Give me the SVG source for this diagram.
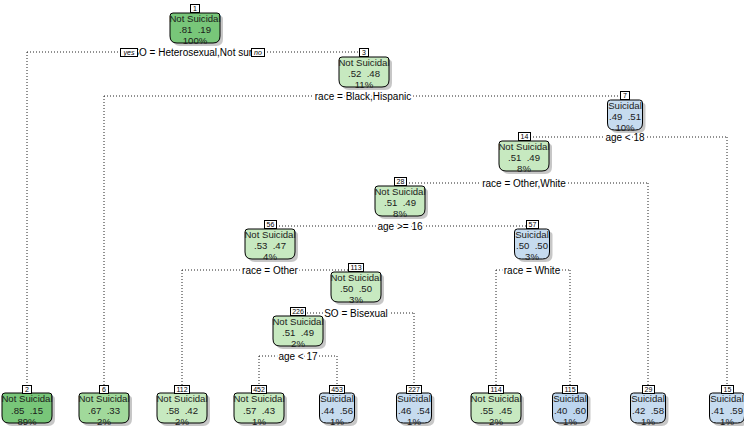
<svg xmlns="http://www.w3.org/2000/svg" width="744" height="432" viewBox="0 0 744 432">
<style>
text{font-family:"Liberation Sans",Arial,sans-serif;}
.c{stroke:#222;stroke-width:1;stroke-dasharray:1 2;fill:none;}
.sl{font-size:10px;fill:#000;text-anchor:middle;stroke:#fff;stroke-width:4;paint-order:stroke;stroke-linejoin:round;}
.t{font-size:9.6px;fill:#1a1a1a;text-anchor:middle;white-space:pre;}
.nb{fill:#fff;stroke:#000;stroke-width:1;}
.nt{font-size:7px;fill:#000;text-anchor:middle;}
.sh{fill:#999;opacity:0.55;}
.bx{stroke:#000;stroke-width:1;}
.g1{fill:#78C679;}
.g2{fill:#A1D99B;}
.g3{fill:#C7E9C0;}
.b1{fill:#C6DBEF;}
.b2{fill:#BCD5EE;}
.yn{font-size:7px;font-style:italic;fill:#000;text-anchor:middle;}
</style>
<defs>
<path id="bg" d="M3,0 H47 Q50,0 50,3 V23 Q50,30 43,30 H7 Q0,30 0,23 V3 Q0,0 3,0 Z"/>
<path id="bb" d="M3,0 H32 Q35,0 35,3 V23 Q35,30 28,30 H7 Q0,30 0,23 V3 Q0,0 3,0 Z"/>
</defs>
<g id="connectors">
<path class="c" d="M27,52 H364 M27,52 V385"/>
<path class="c" d="M104,96 H625 M104,96 V385"/>
<path class="c" d="M524,137 H727 M727,137 V385"/>
<path class="c" d="M400,183 H648 M648,183 V385"/>
<path class="c" d="M270,226 H532"/>
<path class="c" d="M182,270 H356 M182,270 V385"/>
<path class="c" d="M496,270 H570 M496,270 V385 M570,270 V385"/>
<path class="c" d="M298,313 H414 M414,313 V385"/>
<path class="c" d="M259,356 H337 M259,356 V385 M337,356 V385"/>
</g>
<g id="labels">
<text class="sl" x="195" y="56">SO = Heterosexual,Not sure</text>
<text class="sl" x="363" y="100">race = Black,Hispanic</text>
<text class="sl" x="625" y="141">age &lt; 18</text>
<text class="sl" x="524" y="187">race = Other,White</text>
<text class="sl" x="400" y="230">age &gt;= 16</text>
<text class="sl" x="270" y="274">race = Other</text>
<text class="sl" x="532" y="274">race = White</text>
<text class="sl" x="356" y="317">SO = Bisexual</text>
<text class="sl" x="298" y="360">age &lt; 17</text>
<rect class="nb" x="120.5" y="48.5" width="17" height="8"/>
<text class="yn" x="129" y="55">yes</text>
<rect class="nb" x="251.5" y="48.5" width="13" height="8"/>
<text class="yn" x="258" y="55">no</text>
</g>
<g id="node1">
<use href="#bg" class="sh" x="173" y="16"/>
<use href="#bg" class="bx g1" x="170" y="13"/>
<rect class="nb" x="190.5" y="4.5" width="9" height="8"/>
<text class="nt" x="195" y="11">1</text>
<text class="t" x="195" y="22">Not Suicidal</text>
<text class="t" x="195" y="33">.81  .19</text>
<text class="t" x="195" y="44">100%</text>
</g>
<g id="node3">
<use href="#bg" class="sh" x="342" y="60"/>
<use href="#bg" class="bx g3" x="339" y="57"/>
<rect class="nb" x="359.5" y="48.5" width="9" height="8"/>
<text class="nt" x="364" y="55">3</text>
<text class="t" x="364" y="66">Not Suicidal</text>
<text class="t" x="364" y="77">.52  .48</text>
<text class="t" x="364" y="88">11%</text>
</g>
<g id="node7">
<use href="#bb" class="sh" x="610.5" y="103"/>
<use href="#bb" class="bx b1" x="607.5" y="100"/>
<rect class="nb" x="620.5" y="91.5" width="9" height="8"/>
<text class="nt" x="625" y="98">7</text>
<text class="t" x="625" y="109">Suicidal</text>
<text class="t" x="625" y="120">.49  .51</text>
<text class="t" x="625" y="131">10%</text>
</g>
<g id="node14">
<use href="#bg" class="sh" x="502" y="144"/>
<use href="#bg" class="bx g3" x="499" y="141"/>
<rect class="nb" x="518.5" y="132.5" width="12" height="8"/>
<text class="nt" x="524.5" y="139">14</text>
<text class="t" x="524" y="150">Not Suicidal</text>
<text class="t" x="524" y="161">.51  .49</text>
<text class="t" x="524" y="172">8%</text>
</g>
<g id="node28">
<use href="#bg" class="sh" x="378" y="189"/>
<use href="#bg" class="bx g3" x="375" y="186"/>
<rect class="nb" x="394.5" y="177.5" width="12" height="8"/>
<text class="nt" x="400.5" y="184">28</text>
<text class="t" x="400" y="195">Not Suicidal</text>
<text class="t" x="400" y="206">.51  .49</text>
<text class="t" x="400" y="217">8%</text>
</g>
<g id="node56">
<use href="#bg" class="sh" x="248" y="232"/>
<use href="#bg" class="bx g3" x="245" y="229"/>
<rect class="nb" x="264.5" y="220.5" width="12" height="8"/>
<text class="nt" x="270.5" y="227">56</text>
<text class="t" x="270" y="238">Not Suicidal</text>
<text class="t" x="270" y="249">.53  .47</text>
<text class="t" x="270" y="260">4%</text>
</g>
<g id="node57">
<use href="#bb" class="sh" x="517.5" y="232"/>
<use href="#bb" class="bx b1" x="514.5" y="229"/>
<rect class="nb" x="526.5" y="220.5" width="12" height="8"/>
<text class="nt" x="532.5" y="227">57</text>
<text class="t" x="532" y="238">Suicidal</text>
<text class="t" x="532" y="249">.50  .50</text>
<text class="t" x="532" y="260">3%</text>
</g>
<g id="node113">
<use href="#bg" class="sh" x="334" y="275"/>
<use href="#bg" class="bx g3" x="331" y="272"/>
<rect class="nb" x="348.5" y="263.5" width="15" height="8"/>
<text class="nt" x="356" y="270">113</text>
<text class="t" x="356" y="281">Not Suicidal</text>
<text class="t" x="356" y="292">.50  .50</text>
<text class="t" x="356" y="303">3%</text>
</g>
<g id="node226">
<use href="#bg" class="sh" x="276" y="319"/>
<use href="#bg" class="bx g3" x="273" y="316"/>
<rect class="nb" x="290.5" y="307.5" width="15" height="8"/>
<text class="nt" x="298" y="314">226</text>
<text class="t" x="298" y="325">Not Suicidal</text>
<text class="t" x="298" y="336">.51  .49</text>
<text class="t" x="298" y="347">2%</text>
</g>
<g id="node2">
<use href="#bg" class="sh" x="5" y="396"/>
<use href="#bg" class="bx g1" x="2" y="393"/>
<rect class="nb" x="22.5" y="385.5" width="9" height="8"/>
<text class="nt" x="27" y="392">2</text>
<text class="t" x="27" y="402">Not Suicidal</text>
<text class="t" x="27" y="414">.85  .15</text>
<text class="t" x="27" y="425">89%</text>
</g>
<g id="node6">
<use href="#bg" class="sh" x="82" y="396"/>
<use href="#bg" class="bx g2" x="79" y="393"/>
<rect class="nb" x="99.5" y="385.5" width="9" height="8"/>
<text class="nt" x="104" y="392">6</text>
<text class="t" x="104" y="402">Not Suicidal</text>
<text class="t" x="104" y="414">.67  .33</text>
<text class="t" x="104" y="425">2%</text>
</g>
<g id="node112">
<use href="#bg" class="sh" x="160" y="396"/>
<use href="#bg" class="bx g3" x="157" y="393"/>
<rect class="nb" x="174.5" y="385.5" width="15" height="8"/>
<text class="nt" x="182" y="392">112</text>
<text class="t" x="182" y="402">Not Suicidal</text>
<text class="t" x="182" y="414">.58  .42</text>
<text class="t" x="182" y="425">2%</text>
</g>
<g id="node452">
<use href="#bg" class="sh" x="237" y="396"/>
<use href="#bg" class="bx g3" x="234" y="393"/>
<rect class="nb" x="251.5" y="385.5" width="15" height="8"/>
<text class="nt" x="259" y="392">452</text>
<text class="t" x="259" y="402">Not Suicidal</text>
<text class="t" x="259" y="414">.57  .43</text>
<text class="t" x="259" y="425">1%</text>
</g>
<g id="node453">
<use href="#bb" class="sh" x="322.5" y="396"/>
<use href="#bb" class="bx b1" x="319.5" y="393"/>
<rect class="nb" x="329.5" y="385.5" width="15" height="8"/>
<text class="nt" x="337" y="392">453</text>
<text class="t" x="337" y="402">Suicidal</text>
<text class="t" x="337" y="414">.44  .56</text>
<text class="t" x="337" y="425">1%</text>
</g>
<g id="node227">
<use href="#bb" class="sh" x="399.5" y="396"/>
<use href="#bb" class="bx b1" x="396.5" y="393"/>
<rect class="nb" x="406.5" y="385.5" width="15" height="8"/>
<text class="nt" x="414" y="392">227</text>
<text class="t" x="414" y="402">Suicidal</text>
<text class="t" x="414" y="414">.46  .54</text>
<text class="t" x="414" y="425">1%</text>
</g>
<g id="node114">
<use href="#bg" class="sh" x="474" y="396"/>
<use href="#bg" class="bx g3" x="471" y="393"/>
<rect class="nb" x="488.5" y="385.5" width="15" height="8"/>
<text class="nt" x="496" y="392">114</text>
<text class="t" x="496" y="402">Not Suicidal</text>
<text class="t" x="496" y="414">.55  .45</text>
<text class="t" x="496" y="425">2%</text>
</g>
<g id="node115">
<use href="#bb" class="sh" x="555.5" y="396"/>
<use href="#bb" class="bx b2" x="552.5" y="393"/>
<rect class="nb" x="562.5" y="385.5" width="15" height="8"/>
<text class="nt" x="570" y="392">115</text>
<text class="t" x="570" y="402">Suicidal</text>
<text class="t" x="570" y="414">.40  .60</text>
<text class="t" x="570" y="425">1%</text>
</g>
<g id="node29">
<use href="#bb" class="sh" x="633.5" y="396"/>
<use href="#bb" class="bx b1" x="630.5" y="393"/>
<rect class="nb" x="642.5" y="385.5" width="12" height="8"/>
<text class="nt" x="648.5" y="392">29</text>
<text class="t" x="648" y="402">Suicidal</text>
<text class="t" x="648" y="414">.42  .58</text>
<text class="t" x="648" y="425">1%</text>
</g>
<g id="node15">
<use href="#bb" class="sh" x="712.5" y="396"/>
<use href="#bb" class="bx b1" x="709.5" y="393"/>
<rect class="nb" x="721.5" y="385.5" width="12" height="8"/>
<text class="nt" x="727.5" y="392">15</text>
<text class="t" x="727" y="402">Suicidal</text>
<text class="t" x="727" y="414">.41  .59</text>
<text class="t" x="727" y="425">1%</text>
</g>
</svg>
